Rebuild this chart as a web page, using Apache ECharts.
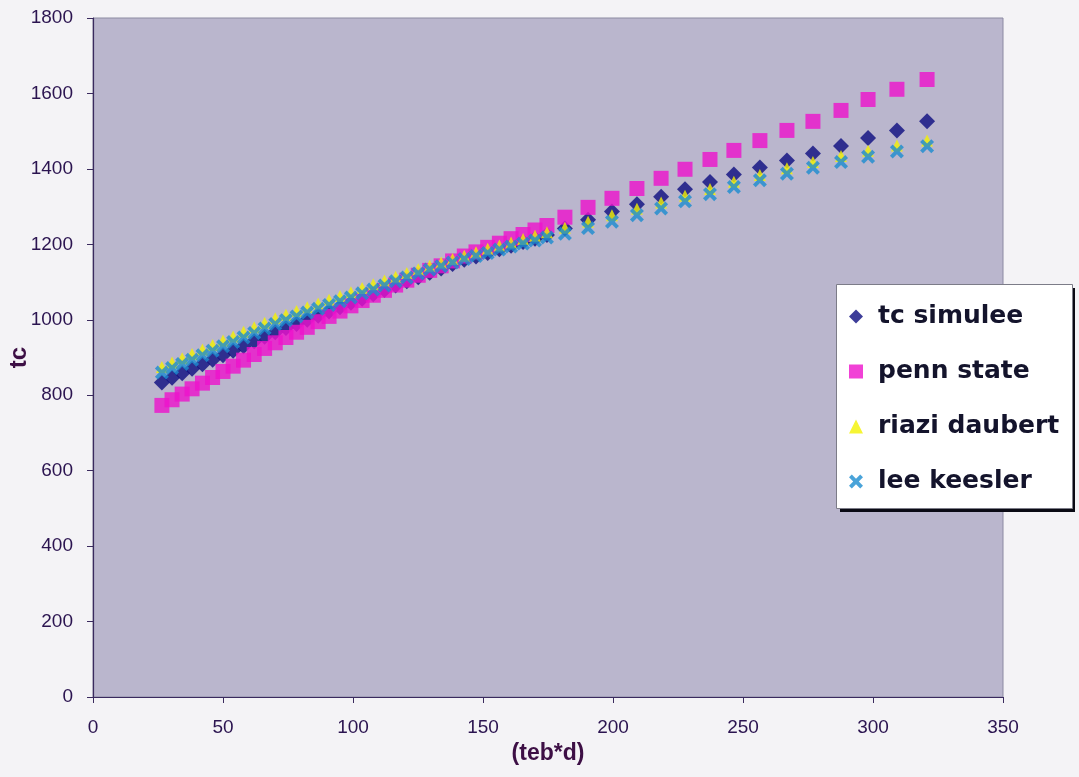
<!DOCTYPE html>
<html>
<head>
<meta charset="utf-8">
<script src="https://cdn.jsdelivr.net/npm/echarts@6/dist/echarts.min.js"></script>
<style>
html,body{margin:0;padding:0;background:#f4f3f6;}
#c{width:1079px;height:777px;}
</style>
</head>
<body>
<div id="c"></div>
<script>
// x values (teb*d)
var xValues = [26.5, 30.4, 34.3, 38.1, 42.1, 46.0, 50.0, 53.9, 57.9, 62.0, 66.0, 70.1, 74.2, 78.3, 82.4, 86.6, 90.8, 95.0, 99.2, 103.5, 107.8, 112.1, 116.4, 120.7, 125.1, 129.5, 133.9, 138.3, 142.8, 147.3, 151.8, 156.3, 160.8, 165.4, 170.0, 174.6,
  181.5, 190.4, 199.6, 209.2, 218.5, 227.7, 237.3, 246.5, 256.5, 266.9, 276.9, 287.7, 298.1, 309.2, 320.8];
var tcSimulee = [834, 846, 858, 870, 882, 894, 906, 918, 930, 943, 955, 967, 978, 989, 1000, 1011, 1022, 1033, 1045, 1056, 1068, 1079, 1091, 1102, 1113, 1125, 1136, 1148, 1159, 1168, 1177, 1187, 1196, 1206, 1215, 1225,
  1242, 1265, 1287, 1306, 1326, 1346, 1365, 1385, 1404, 1422, 1441, 1461, 1482, 1502, 1526];
var pennState = [773, 788, 803, 817, 832, 847, 863, 877, 893, 908, 924, 939, 953, 967, 980, 995, 1009, 1023, 1037, 1051, 1065, 1078, 1092, 1105, 1118, 1131, 1143, 1156, 1169, 1180, 1192, 1203, 1215, 1226, 1238, 1250,
  1272, 1298, 1322, 1348, 1375, 1399, 1425, 1449, 1475, 1502, 1526, 1555, 1584, 1611, 1637];
var riaziDaubert = [875, 887, 898, 909, 921, 933, 945, 956, 968, 980, 992, 1004, 1013, 1023, 1033, 1043, 1053, 1063, 1073, 1084, 1094, 1104, 1114, 1124, 1134, 1143, 1152, 1161, 1170, 1179, 1188, 1197, 1205, 1214, 1223, 1232,
  1244, 1260, 1277, 1294, 1311, 1329, 1347, 1366, 1384, 1402, 1418, 1434, 1448, 1462, 1475];
var leeKeesler = [860, 872, 883, 894, 906, 918, 930, 941, 953, 965, 977, 989, 999, 1009, 1019, 1029, 1039, 1049, 1059, 1070, 1080, 1091, 1102, 1112, 1123, 1133, 1142, 1152, 1161, 1169, 1177, 1186, 1194, 1202, 1210, 1218,
  1228, 1243, 1260, 1277, 1295, 1314, 1333, 1352, 1370, 1387, 1403, 1418, 1432, 1446, 1460];
var seriesNames = ['tc simulee', 'penn state', 'riazi daubert', 'lee keesler'];
var xTicks = {min: 0, max: 350, interval: 50};
var yTicks = {min: 0, max: 1800, interval: 200};

function pairs(ys){ return xValues.map(function(x,i){ return [x, ys[i]]; }); }
function plain(v){ return String(v); }

var crossPath = 'path://M0,2 L2,0 L5,3 L8,0 L10,2 L7,5 L10,8 L8,10 L5,7 L2,10 L0,8 L3,5 Z';
var labelColor = '#2b1450';
var titleColor = '#3d0f45';

var chart = echarts.init(document.getElementById('c'));
chart.setOption({
  animation: false,
  backgroundColor: '#f4f3f6',
  grid: {left: 93, right: 76, top: 18, bottom: 80, containLabel: false, outerBoundsMode: 'none',
         show: true, backgroundColor: '#bab6cd', borderColor: '#8c8aa2', borderWidth: 1},
  xAxis: {
    type: 'value', min: xTicks.min, max: xTicks.max, interval: xTicks.interval,
    name: '(teb*d)', nameLocation: 'middle', nameGap: 45, nameMoveOverlap: false,
    nameTextStyle: {fontFamily: 'Liberation Sans', fontWeight: 'bold', fontSize: 23, color: titleColor},
    axisLine: {show: true, onZero: false, lineStyle: {color: '#3a2a5e', width: 1.2}},
    axisTick: {show: true, length: 6, lineStyle: {color: '#3a2a5e'}},
    axisLabel: {margin: 21, fontFamily: 'Liberation Sans', fontSize: 19, color: labelColor, formatter: plain},
    splitLine: {show: false}
  },
  yAxis: {
    type: 'value', min: yTicks.min, max: yTicks.max, interval: yTicks.interval,
    name: 'tc', nameLocation: 'middle', nameGap: 62, nameRotate: 90, nameMoveOverlap: false,
    nameTextStyle: {fontFamily: 'Liberation Sans', fontWeight: 'bold', fontSize: 24, color: titleColor},
    axisLine: {show: true, onZero: false, lineStyle: {color: '#3a2a5e', width: 1.2}},
    axisTick: {show: true, length: 6, lineStyle: {color: '#3a2a5e'}},
    axisLabel: {margin: 20, fontFamily: 'Liberation Sans', fontSize: 19, color: labelColor, formatter: plain},
    splitLine: {show: false}
  },
  graphic: [
    {type: 'rect', left: 840, top: 288, shape: {width: 235, height: 224}, style: {fill: '#0a0a14'}, z: 0},
    {type: 'rect', left: 836, top: 284, shape: {width: 236, height: 224}, style: {fill: '#ffffff', stroke: '#7c7c88', lineWidth: 1}, z: 0}
  ],
  legend: {
    orient: 'vertical', left: 844, top: 299, itemGap: 30, itemWidth: 14, itemHeight: 14,
    data: seriesNames,
    textStyle: {fontFamily: 'DejaVu Sans', fontWeight: 'bold', fontSize: 25, color: '#14142c', lineHeight: 25, padding: [0, 0, 0, 10]},
    z: 10
  },
  series: [
    {name: seriesNames[0], type: 'scatter', data: pairs(tcSimulee), symbol: 'diamond', symbolSize: 16, itemStyle: {color: '#0d0d80'}, z: 2},
    {name: seriesNames[1], type: 'scatter', data: pairs(pennState), symbol: 'rect', symbolSize: 15, itemStyle: {color: '#ee12cc'}, z: 3},
    {name: seriesNames[2], type: 'scatter', data: pairs(riaziDaubert), symbol: 'triangle', symbolSize: 12, itemStyle: {color: '#f4f200'}, z: 4},
    {name: seriesNames[3], type: 'scatter', data: pairs(leeKeesler), symbol: crossPath, symbolSize: 14, itemStyle: {color: '#1b8cd0'}, z: 5}
  ]
});
</script>
</body>
</html>
